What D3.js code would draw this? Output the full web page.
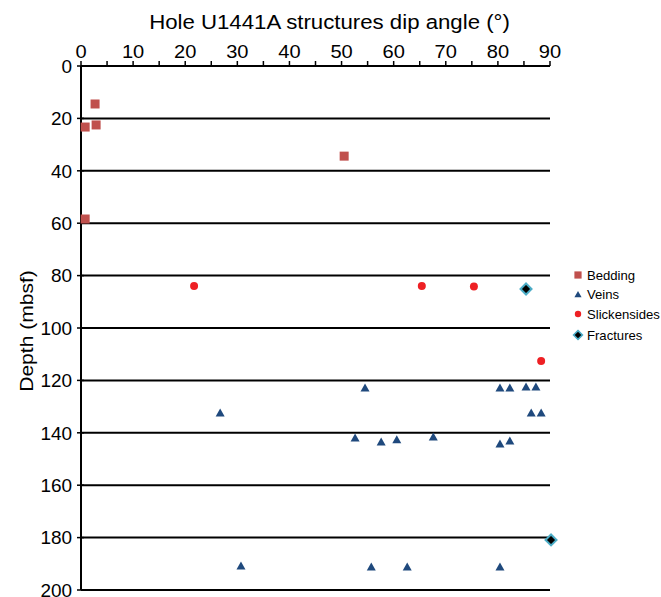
<!DOCTYPE html>
<html>
<head>
<meta charset="utf-8">
<script src="https://cdn.jsdelivr.net/npm/d3@7"></script>
<style>
  body { margin: 0; background: #fff; }
  text { font-family: "Liberation Sans", Arial, sans-serif; fill: #000; }
</style>
</head>
<body>
<div id="chart"></div>
<script>
// dip angle (deg) and depth (mbsf) for each structure type
const beddingDip = [2.7, 0.8, 2.9, 50.5, 0.8];
const beddingDepth = [14.5, 23.3, 22.5, 34.4, 58.4];

const veinsDip = [54.5, 80.4, 82.3, 85.4, 87.3, 26.7, 86.4, 88.3, 52.6, 57.6, 60.6, 67.6, 80.4, 82.3, 30.7, 55.7, 62.6, 80.4];
const veinsDepth = [122.9, 122.9, 122.9, 122.5, 122.5, 132.4, 132.4, 132.4, 142, 143.5, 142.7, 141.6, 144.3, 143.1, 190.8, 191.2, 191.2, 191.2];

const slickDip = [21.7, 65.4, 75.4, 88.3];
const slickDepth = [84, 84, 84.2, 112.6];

const fracDip = [85.4, 90.2];
const fracDepth = [85.1, 180.9];

const xTicks = [0, 10, 20, 30, 40, 50, 60, 70, 80, 90];
const xMinorTicks = d3.range(0, 91, 5);
const yTicks = [0, 20, 40, 60, 80, 100, 120, 140, 160, 180, 200];

const series = [
    {name: "Bedding", dip: beddingDip, depth: beddingDepth, shape: "square"},
    {name: "Veins", dip: veinsDip, depth: veinsDepth, shape: "triangle"},
    {name: "Slickensides", dip: slickDip, depth: slickDepth, shape: "circle"},
    {name: "Fractures", dip: fracDip, depth: fracDepth, shape: "diamond"}
];

const width = 661, height = 597;
const margin = {top: 66, left: 81, right: 111, bottom: 7};

const svg = d3.select("#chart").append("svg")
    .attr("width", width)
    .attr("height", height);

const x = d3.scaleLinear().domain([0, 90]).range([margin.left, width - margin.right]);
const y = d3.scaleLinear().domain([0, 200]).range([margin.top, height - margin.bottom]);

// text in the original is a bit wider than Liberation Sans, so stretch it
function label(g, tx, ty, str, size, anchor, sx, rot) {
    return g.append("text")
        .attr("transform", `translate(${tx},${ty})` + (rot ? ` rotate(${rot})` : "") + ` scale(${sx},1)`)
        .attr("text-anchor", anchor)
        .attr("font-size", size)
        .text(str);
}

// title
label(svg, (157 + 502) / 2, 29, "Hole U1441A structures dip angle (°)", 19.5, "middle", 1.14);

// horizontal grid lines
svg.append("g")
    .selectAll("line")
    .data(yTicks.slice(1))
    .join("line")
    .attr("x1", x(0))
    .attr("x2", x(90))
    .attr("y1", d => y(d))
    .attr("y2", d => y(d))
    .attr("stroke", "#000")
    .attr("stroke-width", 2);

// top axis with minor ticks every 5
const topAxis = svg.append("g").attr("transform", `translate(0,${y(0)})`);
topAxis.append("line")
    .attr("x1", x(0)).attr("x2", x(90))
    .attr("stroke", "#000").attr("stroke-width", 2);
topAxis.selectAll("line.tick")
    .data(xMinorTicks)
    .join("line")
    .attr("class", "tick")
    .attr("x1", d => x(d)).attr("x2", d => x(d))
    .attr("y1", 0).attr("y2", -5)
    .attr("stroke", "#000").attr("stroke-width", 1.5);
xTicks.forEach(d => label(topAxis, x(d), -8, d, 18.6, "middle", 1.08));

// left axis
const leftAxis = svg.append("g");
leftAxis.append("line")
    .attr("x1", x(0)).attr("x2", x(0))
    .attr("y1", y(0)).attr("y2", y(200))
    .attr("stroke", "#000").attr("stroke-width", 2);
leftAxis.selectAll("line.tick")
    .data(yTicks)
    .join("line")
    .attr("class", "tick")
    .attr("x1", x(0) - 4).attr("x2", x(0) + 3)
    .attr("y1", d => y(d)).attr("y2", d => y(d))
    .attr("stroke", "#000").attr("stroke-width", 1.5);
yTicks.forEach(d => label(leftAxis, 72, y(d) + 6.7, d, 18.6, "end", 1.02));

label(svg, 33, 331, "Depth (mbsf)", 18, "middle", 1.17, -90);

// marker drawing
function drawMarker(g, shape, cx, cy, s) {
    if (shape === "square") {
        g.append("rect")
            .attr("x", cx - 4.5 * s).attr("y", cy - 4.5 * s)
            .attr("width", 9 * s).attr("height", 9 * s)
            .attr("fill", "#c0504d");
    } else if (shape === "triangle") {
        g.append("path")
            .attr("d", `M${cx},${cy - 4.5 * s}L${cx + 4.5 * s},${cy + 3.5 * s}L${cx - 4.5 * s},${cy + 3.5 * s}Z`)
            .attr("fill", "#1f497d");
    } else if (shape === "circle") {
        g.append("circle")
            .attr("cx", cx).attr("cy", cy).attr("r", 4 * s)
            .attr("fill", "#ee2024");
    } else {
        g.append("path")
            .attr("d", `M${cx},${cy - 5.5 * s}L${cx + 5.5 * s},${cy}L${cx},${cy + 5.5 * s}L${cx - 5.5 * s},${cy}Z`)
            .attr("fill", "#000")
            .attr("stroke", "#4bacc6")
            .attr("stroke-width", 2 * s);
    }
}

const marks = svg.append("g");
series.forEach(s => {
    s.dip.forEach((d, i) => drawMarker(marks, s.shape, x(d), y(s.depth[i]), 1));
});

// legend
const legend = svg.append("g").attr("transform", "translate(578,275)");
const legendRows = [0, 19.5, 39, 60];
series.forEach((s, i) => {
    const row = legend.append("g").attr("transform", `translate(0,${legendRows[i]})`);
    drawMarker(row, s.shape, 0, 0, 0.8);
    label(row, 9, 4.5, s.name, 12.5, "start", 1.05);
});
</script>
</body>
</html>
